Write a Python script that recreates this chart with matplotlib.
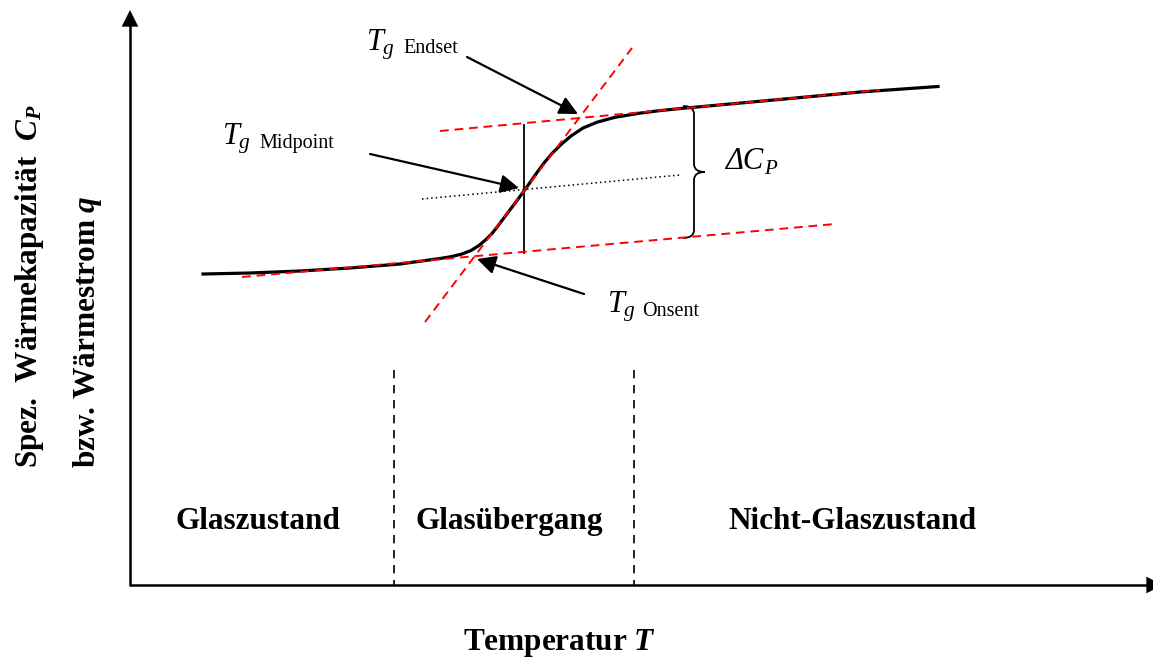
import matplotlib
matplotlib.use("Agg")
import matplotlib.pyplot as plt
from matplotlib.path import Path
from matplotlib.patches import PathPatch, FancyArrowPatch

plt.rcParams['font.family'] = ['Liberation Serif', 'DejaVu Serif']
plt.rcParams['mathtext.fontset'] = 'custom'
plt.rcParams['mathtext.rm'] = 'Liberation Serif'
plt.rcParams['mathtext.it'] = 'Liberation Serif:italic'
plt.rcParams['mathtext.bf'] = 'Liberation Serif:bold'
try:
    plt.rcParams['mathtext.bfit'] = 'Liberation Serif:italic:bold'
    BFIT = r'\mathbfit'
except KeyError:
    BFIT = r'\mathbf'

# ---------------- data (schematic; y grows downward) ----------------
curve_T = [203, 250, 300, 350, 400, 440, 452, 462, 471, 479, 486, 492, 498, 503, 510, 517,
           524, 530, 537, 544, 552, 561, 571, 583, 597, 615, 640, 660, 683, 730, 790, 860, 938]
curve_C = [274, 273, 271, 268, 264, 258.5, 256.5, 254, 250.5, 245.5, 239.5, 233.5, 225.8,
           219.2, 209.8, 200.5, 191, 182.5, 172.5, 163, 153.5, 144.5, 136, 128, 122.2, 117.3,
           113.1, 110.6, 108.3, 104, 98.5, 92, 86.5]

lower_tan_T = [242, 835]
lower_tan_C = [277, 224]
upper_tan_T = [440, 880]
upper_tan_C = [131, 90]
steep_tan_T = [425, 632]
steep_tan_C = [322, 48]

mid_dot_T = [422, 680]
mid_dot_C = [199, 175]
mid_vert_T = 524
mid_vert_C = [125, 253]

region_bounds_T = [394, 634]
region_bounds_C = [370, 585]

axis_origin = (130, 585)
axis_x_end = 1163
axis_y_end = 10

brace_x = 683
brace_C = [106, 238]

regions = ["Glaszustand", "Glasübergang", "Nicht-Glaszustand"]
region_label_T = [258, 509, 852]
region_label_C = 529

# Tg annotations: label word, text x, T baseline, word x, arrow tail, arrow head
tg_labels = ["Endset", "Midpoint", "Onsent"]
tg_text_T = [366, 222, 607]
tg_text_C = [50, 145, 313]
tg_word_T = [403, 259, 642]
tg_arrow_tail = [(467, 57), (370, 154), (584, 294)]
tg_arrow_head = [(578, 114), (519, 188), (477, 259)]

# ---------------- figure ----------------
W, H = 1153, 657
fig = plt.figure(figsize=(W / 100, H / 100), dpi=100)
ax = fig.add_axes([0, 0, 1, 1])
ax.set_xlim(0, W)
ax.set_ylim(H, 0)
ax.axis('off')

# axes with arrows
ox, oy = axis_origin
ax.plot([ox, ox], [oy + 1, axis_y_end + 12], color='black', lw=1.8, solid_capstyle='butt')
ax.plot([ox, axis_x_end - 12], [oy, oy], color='black', lw=1.8, solid_capstyle='butt')
ax.add_patch(FancyArrowPatch((ox, axis_y_end + 25), (ox, axis_y_end), arrowstyle='-|>',
                             mutation_scale=30, color='black', lw=0, shrinkA=0, shrinkB=0))
ax.add_patch(FancyArrowPatch((axis_x_end - 25, oy), (axis_x_end, oy), arrowstyle='-|>',
                             mutation_scale=30, color='black', lw=0, shrinkA=0, shrinkB=0))

# region boundaries
for xb in region_bounds_T:
    ax.plot([xb, xb], region_bounds_C, color='black', lw=1.2, linestyle=(0, (5, 4)))

# tangents
red_ls = (0, (4.5, 3))
for tx, ty in [(lower_tan_T, lower_tan_C), (upper_tan_T, upper_tan_C), (steep_tan_T, steep_tan_C)]:
    ax.plot(tx, ty, color='#ff0000', lw=1.4, linestyle=red_ls, zorder=4)

# midpoint helper lines
ax.plot(mid_dot_T, mid_dot_C, color='black', lw=1.1, linestyle=(0, (1, 2)))
ax.plot([mid_vert_T, mid_vert_T], mid_vert_C, color='black', lw=1.3)

# curve
ax.plot(curve_T, curve_C, color='black', lw=2.3, zorder=3, solid_joinstyle='round')

# brace
b0, b1 = brace_C
bm = (b0 + b1) / 2
sx = brace_x + 11
tip = brace_x + 22
verts = [(brace_x, b0), (sx, b0), (sx, b0 + 8),
         (sx, bm - 8),
         (sx, bm), (tip, bm), (tip, bm),
         (sx, bm), (sx, bm + 8),
         (sx, b1 - 8),
         (sx, b1), (brace_x, b1)]
codes = [Path.MOVETO, Path.CURVE3, Path.CURVE3,
         Path.LINETO,
         Path.CURVE3, Path.CURVE3, Path.MOVETO,
         Path.CURVE3, Path.CURVE3,
         Path.LINETO,
         Path.CURVE3, Path.CURVE3]
ax.add_patch(PathPatch(Path(verts, codes), fill=False, lw=1.3, edgecolor='black'))
dc = ax.text(725, 169, 'ΔC', fontsize=22, fontstyle='italic', ha='left', va='baseline')
ax.annotate('P', xy=(1, 0), xycoords=dc, xytext=(0.5, -2.5), textcoords='offset points',
            fontsize=15, fontstyle='italic', ha='left', va='bottom')

# Tg annotations
for word, tx, ty, wx, tail, head in zip(tg_labels, tg_text_T, tg_text_C, tg_word_T,
                                       tg_arrow_tail, tg_arrow_head):
    ax.text(tx, ty, r'$T_g$', fontsize=22, ha='left', va='baseline')
    ax.text(wx, ty + 3, word, fontsize=14.5, ha='left', va='baseline')
    ax.add_patch(FancyArrowPatch(tail, head, arrowstyle='-|>', mutation_scale=28,
                                 color='black', lw=1.6, shrinkA=0, shrinkB=0))

# region labels
for lab, x in zip(regions, region_label_T):
    ax.text(x, region_label_C, lab, fontsize=22.5, fontweight='bold', ha='center', va='baseline')

# axis labels
ax.text(560, 650, 'Temperatur $' + BFIT + '{T}$', fontsize=22.5, fontweight='bold',
        ha='center', va='baseline')
ax.text(37, 468, 'Spez.  Wärmekapazität  $' + BFIT + '{C}_{' + BFIT + '{P}}$', fontsize=22.5,
        fontweight='bold', rotation=90, rotation_mode='anchor', ha='left', va='baseline')
ax.text(95, 468, 'bzw. Wärmestrom $' + BFIT + '{q}$', fontsize=22.5,
        fontweight='bold', rotation=90, rotation_mode='anchor', ha='left', va='baseline')

fig.savefig('out.png', dpi=100)
